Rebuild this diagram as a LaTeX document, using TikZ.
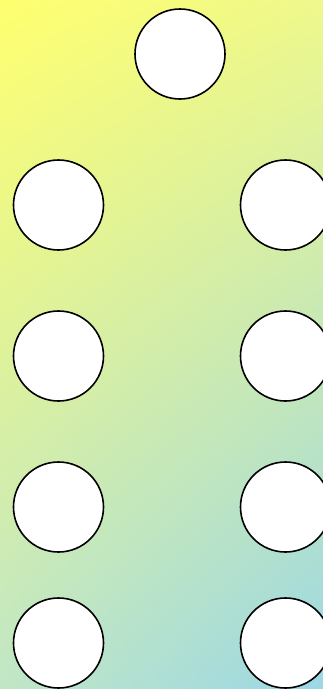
\documentclass[tikz,border=0pt]{standalone}
\usetikzlibrary{shadings}
\begin{document}
\begin{tikzpicture}[x=0.75pt,y=-0.75pt,
  dot/.style={circle,draw=black,line width=1.2pt,fill=white,minimum size=67.5pt,inner sep=0pt}]
\definecolor{cTL}{RGB}{255,255,110}
\definecolor{cTR}{RGB}{238,248,140}
\definecolor{cBL}{RGB}{192,230,198}
\definecolor{cBR}{RGB}{155,215,230}
\useasboundingbox (0,0) rectangle (323,689);
\shade[upper left=cTL,upper right=cTR,lower left=cBL,lower right=cBR] (0,0) rectangle (323,689);
\node[dot] (t) at (180,54) {};
\node[dot] (l1) at (58.5,205) {};
\node[dot] (r1) at (285.5,205) {};
\node[dot] (l2) at (58.5,356) {};
\node[dot] (r2) at (285.5,356) {};
\node[dot] (l3) at (58.5,507) {};
\node[dot] (r3) at (285.5,507) {};
\node[dot] (l4) at (58.5,643) {};
\node[dot] (r4) at (285.5,643) {};
\end{tikzpicture}
\end{document}
